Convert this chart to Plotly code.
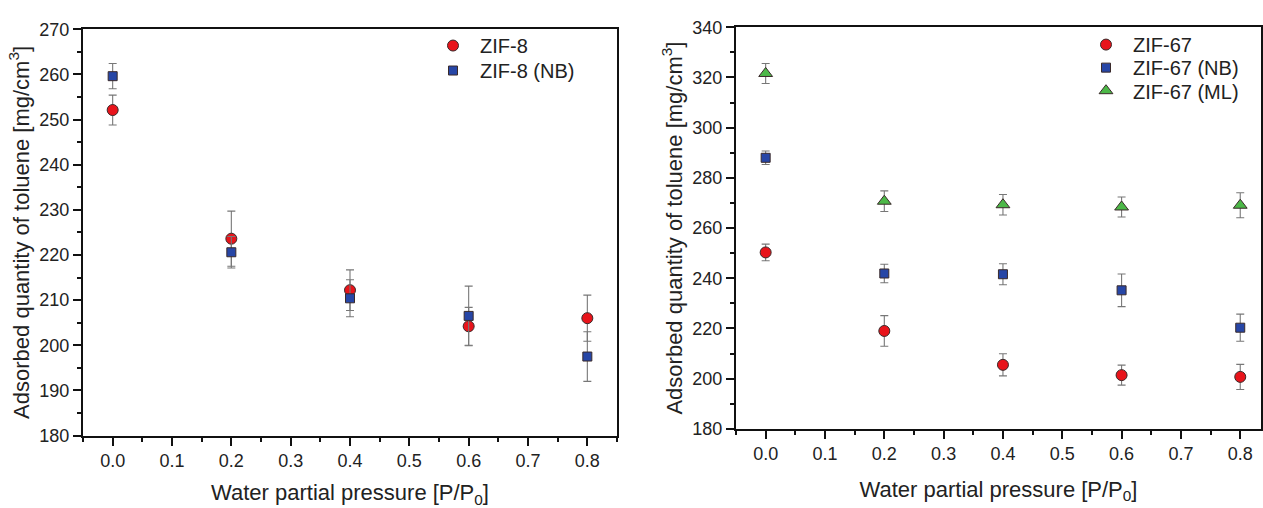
import plotly.graph_objects as go

# ---------- data ----------
pressure = [0.0, 0.2, 0.4, 0.6, 0.8]

zif8 = [252.1, 223.6, 212.2, 204.2, 206.0]
zif8_err = [3.3, 6.1, 4.5, 4.2, 5.1]
zif8_nb = [259.6, 220.6, 210.4, 206.5, 197.5]
zif8_nb_err = [2.8, 3.5, 4.1, 6.6, 5.5]

zif67 = [250.3, 219.0, 205.5, 201.4, 200.7]
zif67_err = [3.3, 6.1, 4.4, 4.0, 5.0]
zif67_nb = [288.0, 241.9, 241.6, 235.2, 220.3]
zif67_nb_err = [2.7, 3.7, 4.2, 6.5, 5.4]
zif67_ml = [321.6, 270.7, 269.3, 268.4, 269.1]
zif67_ml_err = [4.0, 4.1, 4.1, 4.0, 5.0]

x_ticks = [0.0, 0.1, 0.2, 0.3, 0.4, 0.5, 0.6, 0.7, 0.8]

# ---------- styles ----------
RED = "#e8141b"
BLUE = "#2746a6"
GREEN = "#4cb848"
EDGE = "#3a2a2a"
ERR = "#777777"
FONT = "Liberation Sans, Arial, sans-serif"
TXT = "#222222"

W, H = 1263, 508


def err(vals):
    return dict(type="data", array=vals, visible=True, color=ERR, thickness=1.1, width=4)


fig = go.Figure()

fig.add_trace(go.Scatter(x=pressure, y=zif8, mode="markers", name="ZIF-8",
                         error_y=err(zif8_err), xaxis="x", yaxis="y", legend="legend",
                         marker=dict(symbol="circle", size=11, color=RED, line=dict(color=EDGE, width=1))))
fig.add_trace(go.Scatter(x=pressure, y=zif8_nb, mode="markers", name="ZIF-8 (NB)",
                         error_y=err(zif8_nb_err), xaxis="x", yaxis="y", legend="legend2",
                         marker=dict(symbol="square", size=9, color=BLUE, line=dict(color=EDGE, width=1))))

fig.add_trace(go.Scatter(x=pressure, y=zif67, mode="markers", name="ZIF-67",
                         error_y=err(zif67_err), xaxis="x2", yaxis="y2", legend="legend3",
                         marker=dict(symbol="circle", size=11, color=RED, line=dict(color=EDGE, width=1))))
fig.add_trace(go.Scatter(x=pressure, y=zif67_nb, mode="markers", name="ZIF-67 (NB)",
                         error_y=err(zif67_nb_err), xaxis="x2", yaxis="y2", legend="legend4",
                         marker=dict(symbol="square", size=9, color=BLUE, line=dict(color=EDGE, width=1))))
fig.add_trace(go.Scatter(x=pressure, y=zif67_ml, mode="markers", name="ZIF-67 (ML)",
                         error_y=err(zif67_ml_err), xaxis="x2", yaxis="y2", legend="legend5",
                         marker=dict(symbol="triangle-up", size=12, color=GREEN, line=dict(color=EDGE, width=1))))

axis_common = dict(
    showline=True, linecolor="#111", linewidth=2, mirror=True,
    ticks="outside", ticklen=8, tickwidth=1.5, tickcolor="#111",
    showgrid=False, zeroline=False,
    tickfont=dict(family=FONT, size=18, color=TXT),
)

xtitle = "Water partial pressure [P/P<sub>0</sub>]"
ytitle = "Adsorbed quantity of toluene [mg/cm<sup>3</sup>]"
title_font = dict(family=FONT, size=22, color=TXT)
legend_font = dict(family=FONT, size=20, color=TXT)


def leg(xpx, ypx):
    return dict(x=xpx / W, y=1 - ypx / H, xanchor="left", yanchor="middle",
                bgcolor="rgba(0,0,0,0)", font=legend_font, itemwidth=44,
                tracegroupgap=0, itemsizing="trace")


fig.update_layout(
    width=W, height=H,
    margin=dict(l=0, r=0, t=0, b=0),
    paper_bgcolor="white", plot_bgcolor="white",
    font=dict(family=FONT, color=TXT),
    xaxis=dict(axis_common, domain=[83 / W, 617 / W], anchor="y",
               range=[-0.05, 0.85], tickvals=x_ticks, tickformat=".1f",
               minor=dict(ticks="outside", ticklen=4, dtick=0.05, tick0=0, tickcolor="#111", tickwidth=1.5),
               title=dict(text=xtitle, font=title_font, standoff=21)),
    yaxis=dict(axis_common, domain=[1 - 443 / H, 1 - 20 / H], anchor="x",
               range=[180, 270], dtick=10,
               minor=dict(ticks="outside", ticklen=4, dtick=5, tickcolor="#111", tickwidth=1.5),
               title=dict(text=ytitle, font=title_font, standoff=4)),
    xaxis2=dict(axis_common, domain=[736 / W, 1261 / W], anchor="y2",
                range=[-0.05, 0.835], tickvals=x_ticks, tickformat=".1f",
                minor=dict(ticks="outside", ticklen=4, dtick=0.05, tick0=0, tickcolor="#111", tickwidth=1.5),
                title=dict(text=xtitle, font=title_font, standoff=18)),
    yaxis2=dict(axis_common, domain=[1 - 436 / H, 1 - 18 / H], anchor="x2",
                range=[180, 340], dtick=20,
                minor=dict(ticks="outside", ticklen=4, dtick=10, tickcolor="#111", tickwidth=1.5),
                title=dict(text=ytitle, font=title_font, standoff=4)),
    legend=leg(426, 37),
    legend2=leg(426, 63),
    legend3=leg(1079, 36),
    legend4=leg(1079, 60),
    legend5=leg(1079, 84),
    showlegend=True,
)

fig.write_html("out.html")
